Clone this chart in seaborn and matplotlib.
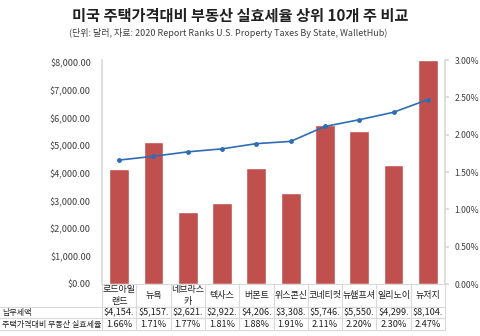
import matplotlib
matplotlib.use('Agg')
import matplotlib.pyplot as plt
import matplotlib.transforms as mtransforms
from matplotlib.lines import Line2D
from matplotlib.ticker import FuncFormatter
import seaborn as sns
import pandas as pd
import numpy as np

# Data
states = ['로드아일\n랜드', '뉴욕', '네브라스\n카', '텍사스', '버몬트',
          '위스콘신', '코네티컷', '뉴햄프셔', '일리노이', '뉴저지']
tax_paid = [4154, 5157, 2621, 2922, 4206, 3308, 5746, 5550, 4299, 8104]
tax_rate = [1.66, 1.71, 1.77, 1.81, 1.88, 1.91, 2.11, 2.20, 2.30, 2.47]
row_names = ['납부세액', '주택가격대비 부동산 실효세율']
left_ticks = [0, 1000, 2000, 3000, 4000, 5000, 6000, 7000, 8000]
right_ticks = [0, 0.5, 1.0, 1.5, 2.0, 2.5, 3.0]

title = '미국 주택가격대비 부동산 실효세율 상위 10개 주 비교'
subtitle = '(단위: 달러, 자료: 2020 Report Ranks U.S. Property Taxes By State, WalletHub)'

BAR_COLOR = '#C0504D'
LINE_COLOR = '#2E6DB4'
GRID_COLOR = '#D9D9D9'
TEXT_COLOR = '#404040'

sns.set_theme(style='white')
plt.rcParams['font.family'] = ['Noto Sans CJK KR', 'DejaVu Sans']

df = pd.DataFrame({'state': states, 'tax': tax_paid, 'rate': tax_rate})
df['pos'] = np.arange(len(df))

W, H = 480, 336
fig = plt.figure(figsize=(W / 100, H / 100), dpi=100)
x0, x1, ytop, ybot = 102, 445, 60, 284
ax = fig.add_axes([x0 / W, 1 - ybot / H, (x1 - x0) / W, (ybot - ytop) / H])

sns.barplot(data=df, x='pos', y='tax', color=BAR_COLOR, width=0.58,
            saturation=1, ax=ax, native_scale=True)
ax.set_xlim(-0.5, len(df) - 0.5)
ax.set_ylim(0, 8110)
ax.set_yticks(left_ticks)
ax.yaxis.set_major_formatter(FuncFormatter(lambda v, p: f'${v:,.2f}'))
ax.set_xticks([])
ax.set_xlabel('')
ax.set_ylabel('')

ax2 = ax.twinx()
sns.lineplot(data=df, x='pos', y='rate', color=LINE_COLOR, linewidth=1.2,
             marker='o', markersize=3.5, markeredgewidth=0, ax=ax2)
ax2.set_ylim(0, 3.0)
ax2.set_yticks(right_ticks)
ax2.yaxis.set_major_formatter(FuncFormatter(lambda v, p: f'{v:.2f}%'))
ax2.set_xlabel('')
ax2.set_ylabel('')

for a in (ax, ax2):
    for s in a.spines.values():
        s.set_visible(False)
ax.tick_params(axis='y', labelsize=6.6, colors=TEXT_COLOR, length=0, pad=8)
ax.spines['left'].set_visible(True)
ax.spines['left'].set_color(GRID_COLOR)
ax2.spines['right'].set_visible(True)
ax2.spines['right'].set_color(GRID_COLOR)
ax2.tick_params(axis='y', labelsize=6.2, labelcolor=TEXT_COLOR, length=3,
                color=GRID_COLOR, pad=4)

# data table under the plot
tr = mtransforms.blended_transform_factory(ax.transData, fig.transFigure)
fy = lambda p: 1 - p / H
row_y = [312.5, 324.5]
for i, row in df.iterrows():
    ax.text(row['pos'], fy(295.5), row['state'], transform=tr, ha='center',
            va='center', fontsize=6.5, color='#202020', linespacing=1.35)
    ax.text(row['pos'], fy(row_y[0]), f"${row['tax']:,.0f}.", transform=tr,
            ha='center', va='center', fontsize=6.6, color='#202020')
    ax.text(row['pos'], fy(row_y[1]), f"{row['rate']:.2f}%", transform=tr,
            ha='center', va='center', fontsize=6.6, color='#202020')
for name, y in zip(row_names, row_y):
    fig.text(2 / W, fy(y), name, ha='left', va='center', fontsize=5.8,
             color='#202020')

for k in range(len(df) + 1):
    xp = x0 + k * (x1 - x0) / len(df)
    fig.add_artist(Line2D([xp / W, xp / W], [fy(ybot), fy(330)],
                          color=GRID_COLOR, linewidth=0.8))
fig.add_artist(Line2D([x0 / W, x1 / W], [fy(ybot), fy(ybot)],
                      color=GRID_COLOR, linewidth=0.8))
for yp in (307, 318, 330):
    fig.add_artist(Line2D([0, x1 / W], [fy(yp), fy(yp)],
                          color=GRID_COLOR, linewidth=0.8))

fig.text(0.5, fy(16), title, ha='center', va='center', fontsize=11,
         fontweight='bold', color='#202020')
fig.text(69 / W, fy(33), subtitle, ha='left', va='center', fontsize=6.5,
         color='#404040')

fig.savefig('out.png', dpi=100)
plt.close(fig)
